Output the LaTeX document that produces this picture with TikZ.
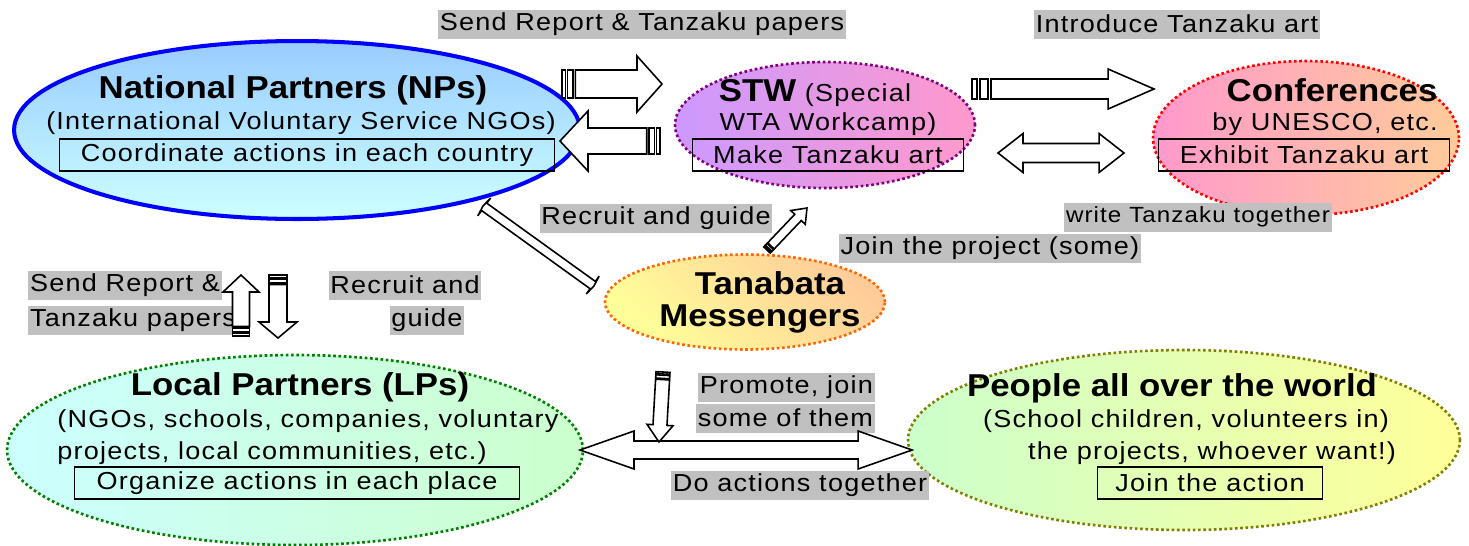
\documentclass[tikz,border=0pt]{standalone}
\usepackage{fontspec}
\setmainfont{Liberation Sans}[FakeStretch=1.1,LetterSpace=5]
\newfontfamily\ttlfont{Liberation Sans}[FakeStretch=1.1]
\usetikzlibrary{calc}
\usetikzlibrary{positioning}
\usetikzlibrary{shapes.geometric}

\definecolor{npblue}{RGB}{0,0,255}
\definecolor{npsky}{RGB}{153,204,255}
\definecolor{npcyan}{RGB}{204,255,255}
\definecolor{stwlilac}{RGB}{204,153,255}
\definecolor{stwpink}{RGB}{255,153,204}
\definecolor{cfpeach}{RGB}{255,204,153}
\definecolor{tnyellow}{RGB}{255,255,153}
\definecolor{lpgreen}{RGB}{204,255,204}
\definecolor{lblgray}{RGB}{192,192,192}
\definecolor{stwpurple}{RGB}{128,0,128}
\definecolor{tnorange}{RGB}{255,102,0}
\definecolor{lpdark}{RGB}{0,128,0}
\definecolor{pplolive}{RGB}{128,128,0}

\tikzset{
  bubble/.style={ellipse, inner sep=0pt},
  dotrim/.style={draw=#1, line width=1.5pt, dash pattern=on 1.5pt off 1.5pt},
  title/.style={font=\ttlfont\bfseries\fontsize{18}{20}\selectfont, inner sep=0pt},
  body/.style={font=\fontsize{14}{16}\selectfont, inner sep=0pt},
  taskbox/.style={draw, line width=1pt, font=\fontsize{14}{16}\selectfont, minimum height=0.65cm, inner sep=0pt},
  graylbl/.style={fill=lblgray, font=\fontsize{14}{16}\selectfont, inner xsep=1pt, inner ysep=0pt, minimum height=0.58cm},
  blockline/.style={draw=black, fill=white, line width=0.9pt, line join=miter},
}

% direction and length (in px) of the segment #1 -> #2
\newcommand\arrowdir[2]{%
  \path let \p1=($(#2)-(#1)$) in \pgfextra{%
    \pgfmathsetmacro\tmpang{atan2(\y1,\x1)}%
    \pgfmathsetmacro\tmplen{veclen(\x1,\y1)/0.569055}%
    \xdef\arang{\tmpang}\xdef\arlen{\tmplen}};}

% striped block arrow: tail, tip, shaft half width, head half width, head length, stripe unit
\newcommand\striparrow[6]{%
  \arrowdir{#1}{#2}
  \begin{scope}[shift={(#1)},rotate=\arang]
    \draw[blockline] (0,-#3) rectangle (#6,#3);
    \draw[blockline] ({1.6*#6},-#3) rectangle ({3.2*#6},#3);
    \draw[blockline] ({3.8*#6},-#3) -- ({\arlen-#5},-#3) -- ({\arlen-#5},-#4) -- (\arlen,0)
      -- ({\arlen-#5},#4) -- ({\arlen-#5},#3) -- ({3.8*#6},#3) -- cycle;
  \end{scope}}

% double block arrow: end, end, shaft half width, head half width, head length
\newcommand\dblarrow[5]{%
  \arrowdir{#1}{#2}
  \begin{scope}[shift={(#1)},rotate=\arang]
    \draw[blockline] (0,0) -- (#5,#4) -- (#5,#3) -- ({\arlen-#5},#3) -- ({\arlen-#5},#4) -- (\arlen,0)
      -- ({\arlen-#5},-#4) -- ({\arlen-#5},-#3) -- (#5,-#3) -- (#5,-#4) -- cycle;
  \end{scope}}

\begin{document}
\begin{tikzpicture}[x=0.02cm,y=-0.02cm]
\useasboundingbox (0,0) rectangle (1469,545);

% the five groups
\node[bubble, minimum width=11.32cm, minimum height=3.56cm, top color=npsky, bottom color=npcyan,
  draw=npblue, line width=2.3pt] (np) at (297,130) {};
\node[bubble, minimum width=6cm, minimum height=2.52cm, left color=stwlilac, right color=stwpink,
  dotrim=stwpurple] (stw) at (825,125) {};
\node[bubble, minimum width=6.12cm, minimum height=3.08cm, left color=stwpink, right color=cfpeach,
  dotrim=red] (conf) at (1306,138) {};
\node[bubble, minimum width=5.6cm, minimum height=1.9cm, left color=tnyellow, right color=cfpeach,
  shading angle=135, dotrim=tnorange] (tana) at (745,302) {};
\node[bubble, minimum width=11.52cm, minimum height=3.8cm, left color=npcyan, right color=lpgreen,
  dotrim=lpdark] (lp) at (295,450) {};
\node[bubble, minimum width=11.04cm, minimum height=3.6cm, left color=lpgreen, right color=tnyellow,
  dotrim=pplolive] (ppl) at (1184,440) {};

% texts inside
\node[title] (np-title) at (293,90) {National Partners (NPs)};
\node[body] (np-sub) at (301,123) {(International Voluntary Service NGOs)};
\node[taskbox, minimum width=9.9cm] (np-task) at (307,155) {Coordinate actions in each country};

\node[body] (stw-title) at (815,93) {{\ttlfont\bfseries\fontsize{18}{20}\selectfont STW} (Special};
\node[body] (stw-sub) at (828,124) {WTA Workcamp)};
\node[taskbox, minimum width=5.42cm] (stw-task) at (828,155) {Make Tanzaku art};

\node[title] (conf-title) at (1332,90) {Conferences};
\node[body] (conf-sub) at (1325,124) {by UNESCO, etc.};
\node[taskbox, minimum width=5.82cm] (conf-task) at (1304,155) {Exhibit Tanzaku art};

\node[title] (tana-title) at (770,283) {Tanabata};
\node[title] (tana-sub) at (760,319) {Messengers};

\node[title] (lp-title) at (300,387) {Local Partners (LPs)};
\node[body, anchor=west] (lp-sub) at (57,421) {(NGOs, schools, companies, voluntary};
\node[body, anchor=west] (lp-sub2) at (57,453) {projects, local communities, etc.)};
\node[taskbox, minimum width=8.9cm] (lp-task) at (297,483) {Organize actions in each place};

\node[title] (ppl-title) at (1172,388) {People all over the world};
\node[body] (ppl-sub) at (1186,421) {(School children, volunteers in)};
\node[body] (ppl-sub2) at (1212,453) {the projects, whoever want!)};
\node[taskbox, minimum width=4.5cm] (ppl-task) at (1210,483) {Join the action};

% grey labels
\node[graylbl] (l-send) at (642,24) {Send Report \& Tanzaku papers};
\node[graylbl] (l-intro) at (1177,24) {Introduce Tanzaku art};
\node[graylbl] (l-recruit) at (656,218) {Recruit and guide};
\node[graylbl, font=\fontsize{12.5}{14}\selectfont] (l-write) at (1198,217) {write Tanzaku together};
\node[graylbl] (l-join) at (990,248) {Join the project (some)};
\node[graylbl, anchor=west] (l-send2) at (28,285) {Send Report \&};
\node[graylbl, anchor=west] (l-send3) at (28,320) {Tanzaku papers};
\node[graylbl] (l-recruit2) at (405,285) {Recruit and};
\node[graylbl] (l-recruit3) at (427,320) {guide};
\node[graylbl, anchor=east] (l-promote) at (875,387) {Promote, join};
\node[graylbl, anchor=east] (l-promote2) at (875,418) {some of them};
\node[graylbl] (l-do) at (800,485) {Do actions together};

% arrow ends
\coordinate (np-stw-a) at (562,84);
\coordinate (np-stw-b) at (662,84);
\coordinate (stw-np-a) at (660,141);
\coordinate (stw-np-b) at (560,141);
\coordinate (stw-cf-a) at (972,89);
\coordinate (stw-cf-b) at (1154,89);
\coordinate (stw-cf-c) at (998,153);
\coordinate (stw-cf-d) at (1124,153);
\coordinate (np-tn-a) at (483,206);
\coordinate (np-tn-b) at (594,286);
\coordinate (tn-stw-a) at (767,250);
\coordinate (tn-stw-b) at (807,208);
\coordinate (lp-np-a) at (241,336);
\coordinate (lp-np-b) at (241,275);
\coordinate (np-lp-a) at (278,275);
\coordinate (np-lp-b) at (278,338);
\coordinate (lp-ppl-a) at (580,450);
\coordinate (lp-ppl-b) at (912,450);
\coordinate (tn-lp-a) at (663,372);
\coordinate (tn-lp-b) at (659,442);

% arrows
\striparrow{np-stw-a}{np-stw-b}{14}{28}{25}{3.5}
\striparrow{stw-np-a}{stw-np-b}{13}{30}{28}{3.5}
\striparrow{stw-cf-a}{stw-cf-b}{10}{20}{46}{5}
\dblarrow{stw-cf-c}{stw-cf-d}{9.5}{19.5}{25}
\dblarrow{np-tn-a}{np-tn-b}{4.5}{11}{1.5}
\striparrow{tn-stw-a}{tn-stw-b}{4.5}{10}{13}{1.5}
\striparrow{lp-np-a}{lp-np-b}{8.5}{18}{17}{2.5}
\striparrow{np-lp-a}{np-lp-b}{9}{19}{16}{2.5}
\dblarrow{lp-ppl-a}{lp-ppl-b}{9}{19}{54}
\striparrow{tn-lp-a}{tn-lp-b}{7}{13}{17}{2}
\end{tikzpicture}
\end{document}
